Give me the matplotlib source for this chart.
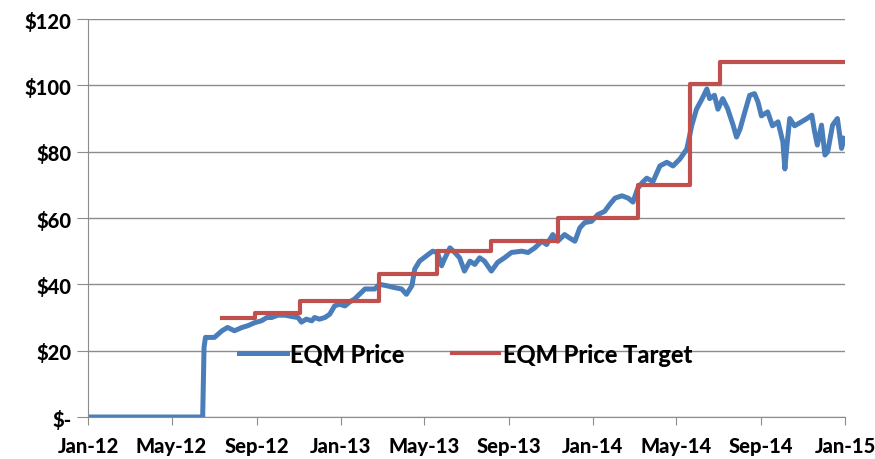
import matplotlib
matplotlib.use("Agg")
import matplotlib.pyplot as plt
import matplotlib.dates as mdates
import matplotlib.ticker as mticker
import pandas as pd

plt.rcParams['font.family'] = ['Lato', 'DejaVu Sans']
plt.rcParams['font.weight'] = 'black'

# EQM unit price
price_dates = [
    "2012-01-01", "2012-06-15", "2012-06-17", "2012-06-19", "2012-07-02", "2012-07-13",
    "2012-07-21", "2012-07-31", "2012-08-11", "2012-08-19", "2012-08-30", "2012-09-08",
    "2012-09-16", "2012-09-23", "2012-10-02", "2012-10-12", "2012-10-22", "2012-10-31",
    "2012-11-05", "2012-11-12", "2012-11-20", "2012-11-24", "2012-12-01", "2012-12-09",
    "2012-12-16", "2012-12-23", "2012-12-30", "2013-01-07", "2013-01-14", "2013-01-21",
    "2013-02-05", "2013-02-19", "2013-02-26", "2013-03-08", "2013-03-20", "2013-03-30",
    "2013-04-06", "2013-04-14", "2013-04-18", "2013-04-25", "2013-05-05", "2013-05-14",
    "2013-05-21", "2013-05-27", "2013-05-31", "2013-06-08", "2013-06-15", "2013-06-22",
    "2013-06-29", "2013-07-07", "2013-07-14", "2013-07-21", "2013-07-28", "2013-08-07",
    "2013-08-16", "2013-08-26", "2013-09-05", "2013-09-20", "2013-09-29", "2013-10-09",
    "2013-10-19", "2013-10-26", "2013-11-04", "2013-11-11", "2013-11-21", "2013-11-28",
    "2013-12-06", "2013-12-13", "2013-12-20", "2013-12-30", "2014-01-08", "2014-01-18",
    "2014-01-25", "2014-02-02", "2014-02-12", "2014-02-21", "2014-02-28", "2014-03-07",
    "2014-03-14", "2014-03-20", "2014-03-29", "2014-04-08", "2014-04-18", "2014-04-27",
    "2014-05-07", "2014-05-17", "2014-05-24", "2014-05-31", "2014-06-08", "2014-06-15",
    "2014-06-19", "2014-06-26", "2014-07-01", "2014-07-08", "2014-07-15", "2014-07-23",
    "2014-07-28", "2014-08-02", "2014-08-09", "2014-08-16", "2014-08-23", "2014-08-28",
    "2014-09-02", "2014-09-11", "2014-09-18", "2014-09-26", "2014-10-03", "2014-10-06",
    "2014-10-09", "2014-10-13", "2014-10-20", "2014-10-30", "2014-11-07", "2014-11-14",
    "2014-11-18", "2014-11-22", "2014-11-28", "2014-12-03", "2014-12-07", "2014-12-14",
    "2014-12-21", "2014-12-27", "2014-12-31",
]
price_values = [
    0, 0, 21, 24, 24, 26,
    27, 26, 27, 27.5, 28.5, 29,
    30, 30, 30.7, 30.7, 30.3, 30,
    28.6, 29.5, 29, 30, 29.5, 30,
    31, 33.5, 34, 33.5, 34.7, 35.6,
    38.6, 38.6, 40, 39.6, 39, 38.6,
    37, 39.6, 44.6, 47, 48.6, 50,
    49.6, 45.6, 47.6, 51, 49.6, 48,
    44, 47, 46, 48, 47, 44,
    46.6, 48, 49.6, 50, 49.6, 51,
    53, 52, 55, 53, 55, 54,
    53, 57, 58.6, 59, 61, 62,
    64, 66, 66.7, 66, 64.8, 69,
    70.8, 72, 71, 75.7, 76.8, 75.7,
    77.8, 80.8, 87.8, 92.8, 95.9, 98.9,
    96, 97, 92.8, 96, 93, 88,
    84.4, 86.8, 92, 97, 97.5, 95,
    90.8, 92, 87.8, 89, 83, 74.8,
    82, 90, 87.8, 89, 90, 91,
    86, 82, 88, 79, 80, 88,
    90, 81, 84,
]

# EQM price target (step changes)
target_dates = [
    "2012-07-13", "2012-08-30", "2012-11-03", "2013-02-26", "2013-05-20", "2013-08-07",
    "2013-11-12", "2014-03-07", "2014-05-22", "2014-07-04", "2015-01-01",
]
target_values = [30, 31.5, 35, 43, 50, 53, 60, 70, 100.5, 107, 107]

tick_dates = ["2012-01-01", "2012-05-01", "2012-09-01", "2013-01-01", "2013-05-01",
              "2013-09-01", "2014-01-01", "2014-05-01", "2014-09-01", "2015-01-01"]

blue = '#4A7EBB'
red = '#C0504D'
grid_c = '#8C8C8C'

fig = plt.figure(figsize=(8.75, 4.6), dpi=100)
ax = fig.add_axes([0.1006, 0.0913, 0.8651, 0.8652])

ax.plot(pd.to_datetime(price_dates), price_values, color=blue, lw=3.6,
        solid_joinstyle='round', label='EQM Price')
ax.plot(pd.to_datetime(target_dates), target_values, color=red, lw=3.0,
        drawstyle='steps-post', label='EQM Price Target')

ax.set_ylim(0, 120)
ax.set_xlim(pd.Timestamp("2012-01-01"), pd.Timestamp("2015-01-01"))
ax.set_yticks(range(0, 121, 20))
ax.yaxis.set_major_formatter(mticker.FuncFormatter(
    lambda v, p: '$-' if v == 0 else f'${v:.0f}'))
ax.set_xticks(pd.to_datetime(tick_dates))
ax.xaxis.set_major_formatter(mdates.DateFormatter('%b-%y'))

ax.grid(axis='y', color=grid_c, lw=1.0)
ax.set_axisbelow(True)
for s in ['top', 'right']:
    ax.spines[s].set_visible(False)
ax.spines['left'].set_color(grid_c)
ax.spines['bottom'].set_color(grid_c)
ax.tick_params(axis='y', length=8, color=grid_c, labelsize=14.5, pad=4)
ax.tick_params(axis='x', length=6, color=grid_c, labelsize=14.5, pad=8)
for lab in ax.get_xticklabels() + ax.get_yticklabels():
    lab.set_fontweight('black')

leg = ax.legend(loc='center left', bbox_to_anchor=(0.2, 0.158), ncol=2,
                frameon=False, fontsize=17, handlelength=2.0, handletextpad=0.15,
                columnspacing=2.0, borderpad=0, borderaxespad=0)
for t in leg.get_texts():
    t.set_fontweight('black')

fig.savefig('out.png', dpi=100)
